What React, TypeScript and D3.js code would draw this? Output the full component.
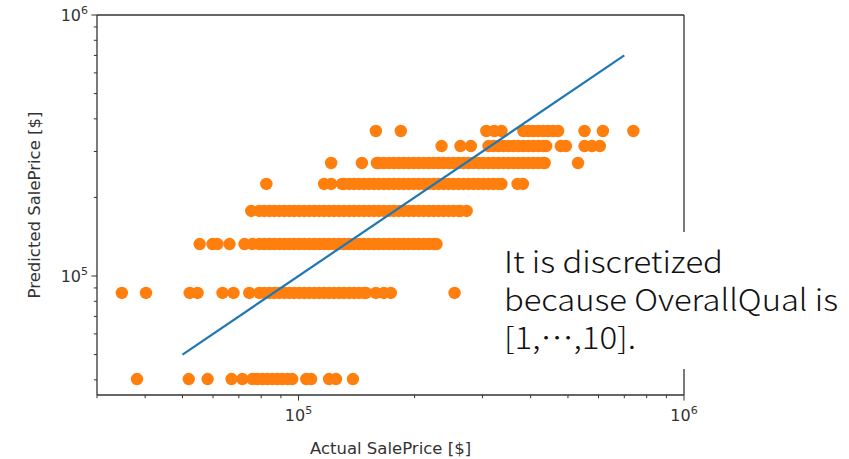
import React from 'react';
import * as d3 from 'd3';

// Predicted SalePrice levels (one per OverallQual value that is visible on a log axis)
const predictedLevels = [40300, 86100, 132600, 177500, 225200, 271000, 314800, 359400];

// Actual SalePrice values of the houses at each predicted level
const actualQ3 = [38100, 51900, 58100, 67000, 71500, 75900, 78200, 80600, 83000, 85500, 88100, 90700, 93500, 96300, 104700, 107800, 120000, 125100, 138400];
const actualQ4 = [34800, 40200, 52200, 54700, 63500, 67800, 74500, 79100, 81500, 84000, 86500, 89100, 91800, 94600, 97400, 100400, 103400, 106500, 109800, 113100, 116500, 120000, 123600, 127400, 131200, 135200, 139300, 143500, 147800, 149600, 158700, 166500, 173500, 254000];
const actualQ5 = [55400, 59800, 61600, 66200, 72400, 75900, 79100, 81500, 84000, 86500, 89100, 91800, 94600, 97400, 100400, 103400, 106500, 109800, 113100, 116500, 120000, 123600, 127400, 131200, 135200, 139300, 143500, 147800, 152300, 156900, 161600, 166500, 171500, 176700, 182000, 187500, 193200, 199000, 205000, 211200, 217600, 224200, 228000];
const actualQ6 = [75400, 79100, 81500, 84000, 86500, 89100, 91800, 94600, 97400, 100400, 103400, 106500, 109800, 113100, 116500, 120000, 123600, 127400, 131200, 135200, 139300, 143500, 147800, 152300, 156900, 161600, 166500, 171500, 176700, 182000, 187500, 193200, 199000, 205000, 211200, 217600, 224200, 230900, 237900, 245100, 252500, 260100, 263000, 273000];
const actualQ7 = [82500, 116500, 121500, 129700, 131200, 135200, 139300, 143500, 147800, 152300, 156900, 161600, 166500, 171500, 176700, 182000, 187500, 193200, 199000, 205000, 211200, 217600, 224200, 230900, 237900, 245100, 252500, 260100, 268000, 276100, 284400, 293000, 301800, 310900, 320300, 330000, 336000, 370000, 382000];
const actualQ8 = [121500, 146000, 159700, 161600, 166500, 171500, 176700, 182000, 187500, 193200, 199000, 205000, 211200, 217600, 224200, 230900, 237900, 245100, 252500, 260100, 268000, 276100, 284400, 293000, 301800, 310900, 320300, 330000, 339900, 350200, 360800, 371600, 382900, 394400, 406300, 418600, 431200, 435000, 531000];
const actualQ9 = [235000, 263000, 280000, 311000, 320300, 330000, 339900, 350200, 360800, 371600, 382900, 394400, 406300, 418600, 431200, 439000, 479000, 494000, 552000, 577000, 605000];
const actualQ10 = [158700, 184200, 307000, 322000, 336000, 382900, 394400, 406300, 418600, 431200, 444200, 457600, 471400, 552000, 616000, 739000];

const actualRows = [actualQ3, actualQ4, actualQ5, actualQ6, actualQ7, actualQ8, actualQ9, actualQ10];

// y = x reference line endpoints
const identityLine = [50000, 700000];

const xDomain = [30000, 1000000];
const yDomain = [35000, 1000000];

const xLabel = 'Actual SalePrice [$]';
const yLabel = 'Predicted SalePrice [$]';
const noteLines = ['It is discretized', 'because OverallQual is', '[1,⋯,10].'];
const noteWidths = [219, 334, 132];

const W = 849;
const H = 459;
const L = 97, R = 684, T = 15, B = 395;

const AXIS_COLOR = '#333333';
const TEXT_COLOR = '#333333';
const TICK_FONT = 'DejaVu Sans, sans-serif';

export default function App() {
  const x = d3.scaleLog().domain(xDomain).range([L, R]);
  const y = d3.scaleLog().domain(yDomain).range([B, T]);

  const points = actualRows.flatMap((row, i) => row.map((a) => ({ a, p: predictedLevels[i] })));

  const isMajor = (v: number) => Math.abs(Math.log10(v) - Math.round(Math.log10(v))) < 1e-9;
  const xTicks = x.ticks();
  const yTicks = y.ticks();

  const line = d3.line<number>().x((d) => x(d)).y((d) => y(d));

  const majorLen = 5.6;
  const minorLen = 3.2;

  const expLabel = (v: number) => Math.round(Math.log10(v));

  return (
    <svg width={W} height={H} style={{ position: 'absolute', left: 0, top: 0, background: '#fff' }}>
      <rect x={0} y={0} width={W} height={H} fill="#fff" />
      {/* scatter */}
      <g>
        {points.map((d, i) => (
          <circle key={i} cx={x(d.a)} cy={y(d.p)} r={6.2} fill="#ff7f0e" />
        ))}
      </g>
      {/* identity line */}
      <path d={line(identityLine) || ''} fill="none" stroke="#1f77b4" strokeWidth={2.2} />

      {/* spines */}
      <g stroke={AXIS_COLOR} strokeWidth={1.3} fill="none">
        <line x1={L} y1={T} x2={R} y2={T} />
        <line x1={L} y1={B} x2={R} y2={B} />
        <line x1={L} y1={T} x2={L} y2={B} />
        <line x1={R} y1={T} x2={R} y2={B} />
      </g>

      {/* x ticks */}
      <g stroke={AXIS_COLOR} strokeWidth={1}>
        {xTicks.map((t, i) => (
          <line key={i} x1={x(t)} x2={x(t)} y1={B} y2={B + (isMajor(t) ? majorLen : minorLen)} />
        ))}
      </g>
      {/* y ticks */}
      <g stroke={AXIS_COLOR} strokeWidth={1}>
        {yTicks.map((t, i) => (
          <line key={i} y1={y(t)} y2={y(t)} x1={L} x2={L - (isMajor(t) ? majorLen : minorLen)} />
        ))}
      </g>

      {/* x tick labels */}
      <g fontFamily={TICK_FONT} fill={TEXT_COLOR}>
        {xTicks.filter(isMajor).map((t, i) => (
          <text key={i} x={x(t)} y={B + 26} fontSize={16} textAnchor="middle">
            <tspan>10</tspan>
            <tspan dy={-7.5} fontSize={11}>{expLabel(t)}</tspan>
          </text>
        ))}
      </g>
      {/* y tick labels */}
      <g fontFamily={TICK_FONT} fill={TEXT_COLOR}>
        {yTicks.filter(isMajor).map((t, i) => (
          <text key={i} x={L - 9} y={y(t) + 6} fontSize={16} textAnchor="end">
            <tspan>10</tspan>
            <tspan dy={-7.5} fontSize={11}>{expLabel(t)}</tspan>
          </text>
        ))}
      </g>

      {/* axis labels */}
      <text x={(L + R) / 2} y={454} textAnchor="middle" fontFamily={TICK_FONT} fontSize={16.5} fill={TEXT_COLOR}>
        {xLabel}
      </text>
      <text
        transform={`translate(40, ${(T + B) / 2}) rotate(-90)`}
        textAnchor="middle"
        fontFamily={TICK_FONT}
        fontSize={16.5}
        fill={TEXT_COLOR}
      >
        {yLabel}
      </text>

      {/* annotation box */}
      <rect x={496} y={232} width={353} height={137} fill="#fff" />
      <g fontFamily="'Noto Sans CJK JP', 'Noto Sans', sans-serif" fontSize={30} fontWeight={300} fill="#111">
        {noteLines.map((s, i) => (
          <text key={i} x={504} y={273 + i * 38} textLength={noteWidths[i]} lengthAdjust="spacingAndGlyphs">
            {s}
          </text>
        ))}
      </g>
    </svg>
  );
}
